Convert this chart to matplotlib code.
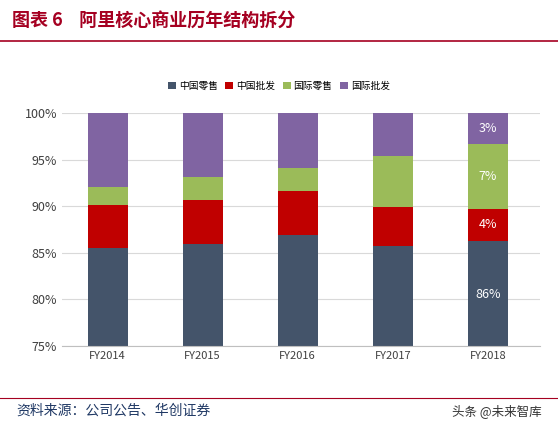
import matplotlib.pyplot as plt
import numpy as np

plt.rcParams['font.family'] = ['Noto Sans CJK SC', 'DejaVu Sans']

years = ["FY2014", "FY2015", "FY2016", "FY2017", "FY2018"]
cn_retail = [85.5, 85.9, 86.9, 85.7, 86.3]
cn_whole = [4.6, 4.8, 4.7, 4.2, 3.4]
intl_retail = [2.0, 2.4, 2.5, 5.5, 7.0]
intl_whole = [7.9, 6.9, 5.9, 4.6, 3.3]
labels_2018 = ["86%", "4%", "7%", "3%"]

series = [
    ("中国零售", cn_retail, "#44546A"),
    ("中国批发", cn_whole, "#C00000"),
    ("国际零售", intl_retail, "#9BBB59"),
    ("国际批发", intl_whole, "#8064A2"),
]

fig = plt.figure(figsize=(5.58, 4.28), dpi=100)
ax = fig.add_axes([0.111, 0.192, 0.857, 0.544])
x = np.arange(len(years))
bottom = np.zeros(len(years))
bars = []
for name, vals, col in series:
    b = ax.bar(x, vals, 0.42, bottom=bottom, color=col, label=name, zorder=2)
    bars.append(b)
    bottom += np.array(vals)

# labels on last bar
for b, lab in zip(bars, labels_2018):
    r = b[-1]
    y0 = max(r.get_y(), 75)
    yc = (y0 + r.get_y() + r.get_height()) / 2
    if lab == "86%":
        yc = 80.5
    ax.text(r.get_x() + r.get_width() / 2, yc, lab, ha="center", va="center",
            color="white", fontsize=9)

ax.set_ylim(75, 100)
ax.set_xlim(-0.48, 4.55)
ax.set_yticks(np.arange(75, 101, 5))
ax.set_yticklabels([f"{v}%" for v in range(75, 101, 5)], fontsize=9, color="#404040")
ax.set_xticks(x)
ax.set_xticklabels(years, fontsize=8, color="#404040")
ax.grid(axis="y", color="#D9D9D9", lw=0.8, zorder=0)
for s in ["top", "right", "left"]:
    ax.spines[s].set_visible(False)
ax.spines["bottom"].set_color("#BFBFBF")
ax.tick_params(length=0)

fig.legend(loc="center", bbox_to_anchor=(0.5, 0.80), ncol=4, frameon=False,
           fontsize=7, handlelength=0.8, handleheight=0.8, handletextpad=0.3,
           columnspacing=0.8)

fig.text(0.022, 0.95, "图表 6    阿里核心商业历年结构拆分", fontsize=13,
         fontweight="bold", color="#A50021", va="center")
fig.add_artist(plt.Line2D([0.0, 1.0], [0.905, 0.905], color="#A50021", lw=1.2))
fig.add_artist(plt.Line2D([0.0, 1.0], [0.07, 0.07], color="#A50021", lw=0.8))
fig.text(0.03, 0.04, "资料来源：公司公告、华创证券", fontsize=10, style="italic",
         color="#1F3864", va="center")
fig.text(0.97, 0.04, "头条 @未来智库", fontsize=9, color="#333333",
         ha="right", va="center")

fig.savefig("out.png", dpi=100)
